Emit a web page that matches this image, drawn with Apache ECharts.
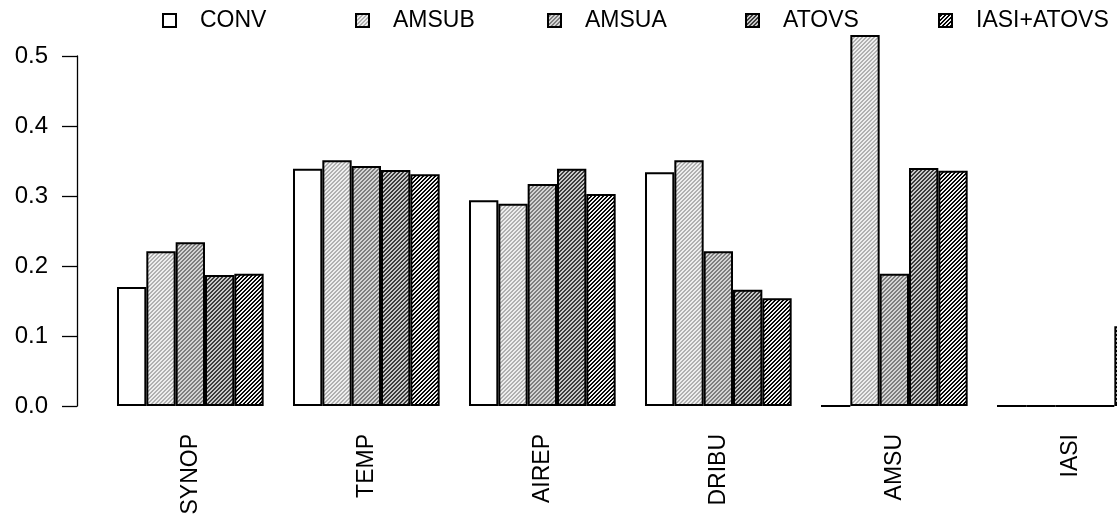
<!DOCTYPE html>
<html>
<head>
<meta charset="utf-8">
<script src="https://cdn.jsdelivr.net/npm/echarts@6/dist/echarts.min.js"></script>
<style>
  html, body { margin: 0; padding: 0; background: #fff; }
  #chart { width: 1117px; height: 519px; }
</style>
</head>
<body>
<div id="chart"></div>
<script>
// Observation types on the x axis
const categories = ['SYNOP', 'TEMP', 'AIREP', 'DRIBU', 'AMSU', 'IASI'];

// Experiment values per observation type
const conv      = [0.170, 0.339, 0.294, 0.334, 0.000, 0.000];
const amsub     = [0.221, 0.351, 0.289, 0.351, 0.530, 0.000];
const amsua     = [0.234, 0.343, 0.317, 0.221, 0.189, 0.000];
const atovs     = [0.187, 0.337, 0.339, 0.166, 0.340, 0.000];
const iasiAtovs = [0.189, 0.331, 0.303, 0.154, 0.336, 0.114];

const yTicks = [0, 0.1, 0.2, 0.3, 0.4, 0.5];

const FONT = "'Liberation Sans', Arial, Helvetica, sans-serif";

// Diagonal "/" hatching tile: alternating background and stripe pixels
function hatch(bg, fg) {
  const c = document.createElement('canvas');
  c.width = 4; c.height = 4;
  const ctx = c.getContext('2d');
  for (let x = 0; x < 4; x++) {
    for (let y = 0; y < 4; y++) {
      ctx.fillStyle = ((x + y) % 4 < 2) ? fg : bg;
      ctx.fillRect(x, y, 1, 1);
    }
  }
  return { image: c, repeat: 'repeat' };
}

const seriesDefs = [
  { name: 'CONV',        data: conv,      fill: '#ffffff' },
  { name: 'AMSUB',       data: amsub,     fill: hatch('#b0b0b0', '#eeeeee') },
  { name: 'AMSUA',       data: amsua,     fill: hatch('#7e7e7e', '#d4d4d4') },
  { name: 'ATOVS',       data: atovs,     fill: hatch('#3c3c3c', '#c8c8c8') },
  { name: 'IASI+ATOVS',  data: iasiAtovs, fill: hatch('#050505', '#f0f0f0') }
];

const legendLeft = [162, 355, 547, 745, 938];

const chart = echarts.init(document.getElementById('chart'), null, { renderer: 'canvas' });

chart.setOption({
  animation: false,
  backgroundColor: '#ffffff',
  textStyle: { fontFamily: FONT },
  grid: {
    left: 102.33, top: 56, width: 1056, height: 350,
    containLabel: false,
    outerBoundsMode: 'none'
  },
  legend: seriesDefs.map((s, i) => ({
    data: [s.name],
    left: legendLeft[i],
    top: 9,
    padding: 0,
    orient: 'horizontal',
    icon: 'rect',
    itemWidth: 13,
    itemHeight: 13,
    selectedMode: false,
    textStyle: {
      fontFamily: FONT, fontSize: 23, color: '#000', lineHeight: 23,
      padding: [0, 0, 0, 19]
    }
  })),
  xAxis: {
    type: 'category',
    data: categories,
    axisLine: { show: false },
    axisTick: { show: false },
    splitLine: { show: false },
    axisLabel: {
      rotate: 90,
      margin: 28,
      fontFamily: FONT,
      fontSize: 23,
      color: '#000'
    }
  },
  yAxis: {
    type: 'value',
    min: 0,
    max: 0.5,
    interval: 0.1,
    offset: 25.33,
    splitLine: { show: false },
    axisLine: { show: true, lineStyle: { color: '#000', width: 1.3 } },
    axisTick: { show: true, length: 15, lineStyle: { color: '#000', width: 1.3 } },
    axisLabel: {
      margin: 29,
      fontFamily: FONT,
      fontSize: 24,
      color: '#000',
      formatter: v => {
        const t = yTicks.find(k => Math.abs(k - v) < 1e-9);
        return (t !== undefined ? t : v).toFixed(1);
      }
    }
  },
  series: seriesDefs.map(s => ({
    name: s.name,
    type: 'bar',
    data: s.data,
    clip: false,
    barGap: '0%',
    barCategoryGap: '16.667%',
    itemStyle: {
      color: s.fill,
      borderColor: '#000',
      borderWidth: 2
    }
  }))
});
</script>
</body>
</html>
